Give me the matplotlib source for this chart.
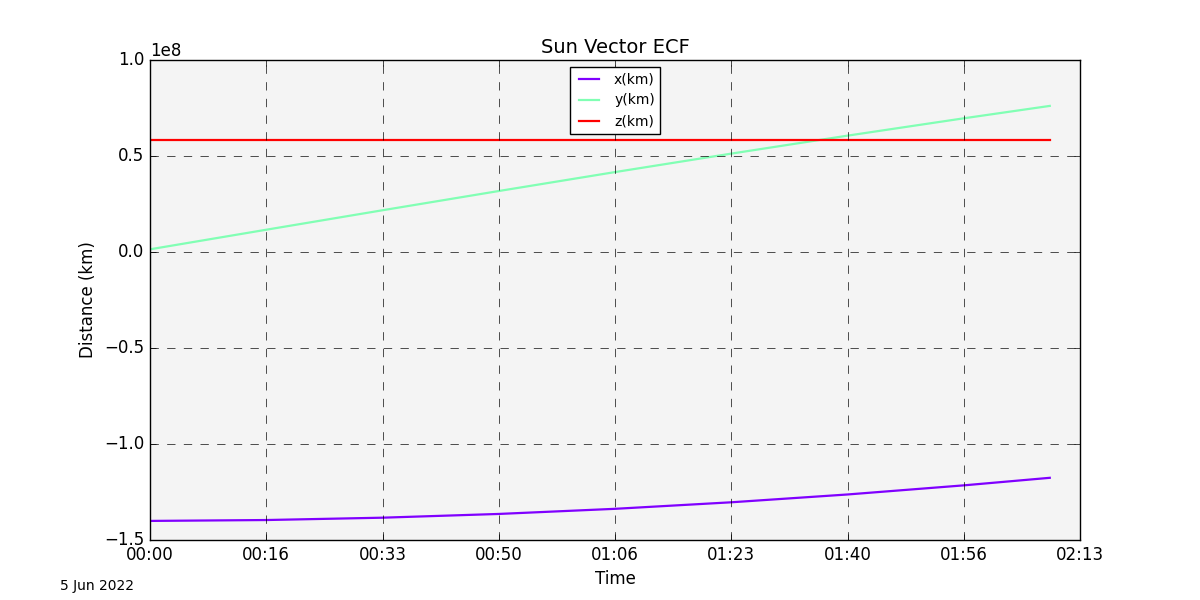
import matplotlib
matplotlib.use("Agg")
import matplotlib.pyplot as plt
from matplotlib.ticker import FuncFormatter, MultipleLocator

# time since start, seconds
t_sec = [0, 1000, 2000, 3000, 4000, 5000, 6000, 7000, 7740]
# sun vector components, km
x_km = [-1.4006e8, -1.3960e8, -1.3838e8, -1.3643e8, -1.3376e8,
        -1.3036e8, -1.2629e8, -1.2154e8, -1.1761e8]
y_km = [0.0140e8, 0.1160e8, 0.2174e8, 0.3176e8, 0.4162e8,
        0.5124e8, 0.6060e8, 0.6963e8, 0.7609e8]
z_km = [0.582e8] * len(t_sec)
date_label = "5 Jun 2022"

plt.style.use("classic")
fig = plt.figure(figsize=(12, 6), dpi=100, facecolor="white")
ax = fig.add_subplot(111)
ax.set_facecolor("#f4f4f4")

cmap = plt.get_cmap("rainbow")
ax.plot(t_sec, x_km, color=cmap(0.0), lw=1.6, label="x(km)")
ax.plot(t_sec, y_km, color=cmap(0.5), lw=1.6, label="y(km)")
ax.plot(t_sec, z_km, color=cmap(1.0), lw=1.6, label="z(km)")

ax.set_xlim(0, 8000)
ax.set_ylim(-1.5e8, 1.0e8)
ax.xaxis.set_major_locator(MultipleLocator(1000))
ax.yaxis.set_major_locator(MultipleLocator(0.5e8))


def hhmm(v, pos):
    m = int(v // 60)
    return "%02d:%02d" % (m // 60, m % 60)


ax.xaxis.set_major_formatter(FuncFormatter(hhmm))
ax.grid(True, color="black", linestyle="--", linewidth=0.6, alpha=0.8)

ax.set_title("Sun Vector ECF", fontsize=14)
ax.set_xlabel("Time", fontsize=12)
ax.set_ylabel("Distance (km)", fontsize=12)
ax.legend(loc="upper center", fontsize=10, framealpha=1.0, handlelength=2.0)

fig.text(0.05, 0.017, date_label, fontsize=10)

fig.savefig("out.png", dpi=100, facecolor="white")
